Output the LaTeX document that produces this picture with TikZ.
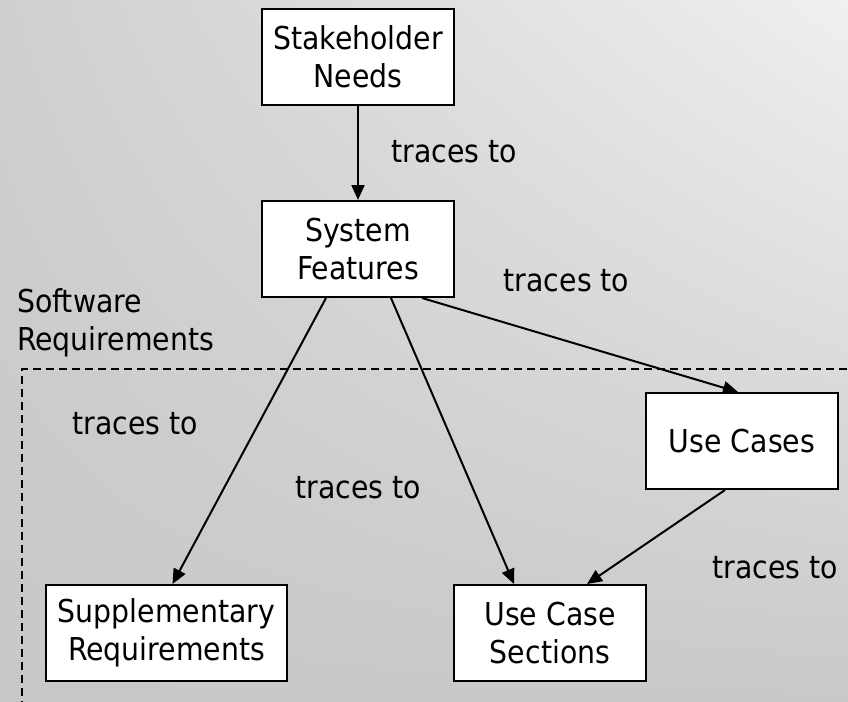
\documentclass[tikz,border=0pt]{standalone}
\usepackage{fontspec}
\setmainfont{DejaVu Sans Condensed}
\usetikzlibrary{arrows.meta,calc,shadings}
\definecolor{bgUL}{HTML}{CFCFCF}
\definecolor{bgUR}{HTML}{F0F0F0}
\definecolor{bgLL}{HTML}{C8C8C8}
\definecolor{bgLR}{HTML}{C9C9C9}
\begin{document}
\begin{tikzpicture}[x=1pt,y=-1pt,
  font=\fontsize{31.5}{38}\selectfont,
  box/.style={draw=black,line width=2pt,fill=white,align=center,
    inner sep=0pt,minimum width=192pt,minimum height=96pt},
  lbl/.style={inner sep=0pt,align=center},
  link/.style={line width=2pt,-{Triangle[length=15pt,width=13pt]}},
  region/.style={line width=2pt,dash pattern=on 8pt off 5pt}]
  \useasboundingbox (0,0) rectangle (848,701);
  \clip (0,0) rectangle (848,701);
  \shade[upper left=bgUL,upper right=bgUR,lower left=bgLL,lower right=bgLR]
    (0,0) rectangle (848,701);

  % package boundary
  \coordinate (regionTL) at (22,369);
  \draw[region] ($(regionTL)+(0,340)$) -- (regionTL) -- ($(regionTL)+(840,0)$);
  \node[lbl,anchor=west,align=left] (swreq) at (17,323) {Software\\Requirements};

  % artefacts
  \node[box] (sn)   at (358,57)  {Stakeholder\\Needs};
  \node[box] (sf)   at (358,249) {System\\Features};
  \node[box] (uc)   at (742,441) {Use Cases};
  \node[box,minimum width=241pt] (supp) at (166.5,633) {Supplementary\\Requirements};
  \node[box] (ucs)  at (550,633) {Use Case\\Sections};

  % trace links
  \draw[link] (sn.south) -- (sf.north);
  \draw[link] ($(sf.south)+(-32,0)$) -- ($(supp.north)+(6,0)$);
  \draw[link] ($(sf.south)+(33,0)$) -- ($(ucs.north)+(-36,0)$);
  \draw[link] ($(sf.south)+(64,0)$) -- ($(uc.north)+(-4,0)$);
  \draw[link] ($(uc.south)+(-17,0)$) -- ($(ucs.north)+(37,0)$);

  % link labels
  \node[lbl] (t1) at (454,152)   {traces to};
  \node[lbl] (t2) at (566.5,281) {traces to};
  \node[lbl] (t3) at (135,424)   {traces to};
  \node[lbl] (t4) at (358,488)   {traces to};
  \node[lbl] (t5) at (775,568)   {traces to};
\end{tikzpicture}
\end{document}
